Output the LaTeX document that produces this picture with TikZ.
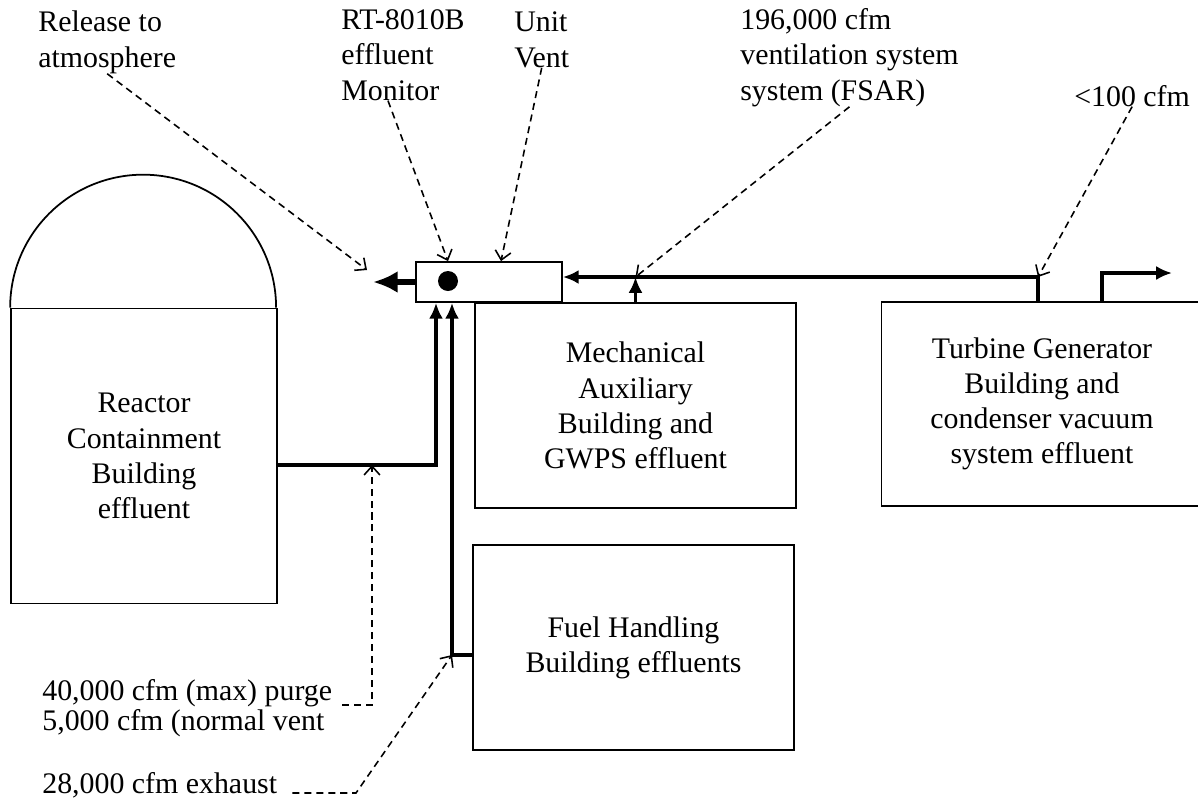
\documentclass[tikz,border=0pt]{standalone}
\usepackage{fontspec}
\setmainfont{Liberation Serif}
\usetikzlibrary{arrows.meta}

\newcommand{\dgfont}{\fontsize{17}{20}\selectfont}

\begin{document}
\begin{tikzpicture}[x=0.02cm,y=-0.02cm,
  every node/.style={font=\dgfont},
  box/.style={draw,line width=1pt,inner sep=0pt,align=center},
  pipe/.style={line width=2.2pt,-{Latex[length=9pt,width=8pt]}},
  note/.style={line width=0.9pt,dash pattern=on 4pt off 2.8pt,
    -{Straight Barb[length=5pt,width=9pt]}},
  lbl/.style={align=left,inner sep=0pt,anchor=base west}]
\useasboundingbox (0,0) rectangle (1198,806);

% {Buildings};
\node[box,minimum width=5.32cm,minimum height=5.9cm] (rcb) at (144,456)
  {Reactor\\Containment\\Building\\effluent};
\draw[line width=1pt] (rcb.north west) arc[start angle=180,end angle=0,radius=2.66cm];
\node[box,minimum width=6.42cm,minimum height=4.1cm] (mab) at (635.5,405.5)
  {Mechanical\\Auxiliary\\Building and\\GWPS effluent};
\node[box,minimum width=6.42cm,minimum height=4.1cm] (fhb) at (633.5,647.5)
  {Fuel Handling\\Building effluents};
\node[box,minimum width=6.42cm,minimum height=4.08cm] (tgb) at (1042,404)
  {Turbine Generator\\Building and\\condenser vacuum\\system effluent};

% {Unit Vent};
\node[box,minimum width=2.92cm,minimum height=0.8cm] (vent) at (489,282) {};
\node[circle,fill,inner sep=0pt,minimum size=0.4cm] (mon) at (448,281) {};

% {Flow paths};
\coordinate (tgtap) at (1038,277);
\coordinate (mabtap) at (mab.north |- tgtap);
\coordinate (tgout) at (1172,273);
\coordinate (rcbtap) at (436,465);
\coordinate (fhbtap) at (452,655);
\coordinate (atm) at (373,282);

\draw[pipe] (tgtap |- tgb.north) -- (tgtap) -- (tgtap -| vent.east);
\draw[pipe] (mab.north) -- (mabtap);
\draw[pipe] (1102,0 |- tgb.north) |- (tgout);
\draw[pipe] (rcb.east |- rcbtap) -| (rcbtap |- vent.south);
\draw[pipe] (fhb.west |- fhbtap) -| (fhbtap |- vent.south);
\draw[pipe,line width=3.2pt,-{Latex[length=14pt,width=12.5pt]}] (vent.west) -- (atm);

% {Labels};
\node[lbl] (rel) at (38,67) {Release to\\atmosphere};
\node[lbl] (rt) at (341,100) {RT-8010B\\effluent\\Monitor};
\node[lbl] (uv) at (514,67) {Unit\\Vent};
\node[lbl] (fsar) at (740,100) {196,000 cfm\\ventilation system\\system (FSAR)};
\node[lbl] (tgflow) at (1074,106) {\textless100 cfm};
\node[lbl] (purge) at (42,700) {40,000 cfm (max) purge};
\node[lbl] (norm) at (42,730) {5,000 cfm (normal vent};
\node[lbl] (exh) at (42,793) {28,000 cfm exhaust};

\coordinate (reltip) at (367,270);
\coordinate (rcbnote) at (372,465);
\coordinate (exbend) at (356,793);

\draw[note] (rel.south) -- (reltip);
\draw[note] ([xshift=-0.3cm]rt.south) -- (mon |- vent.north);
\draw[note] (uv.south) -- ([xshift=0.24cm]vent.north);
\draw[note] (fsar.south) -- (mabtap);
\draw[note] (tgflow.south) -- (tgtap);
\draw[note] ([xshift=0.2cm,yshift=-0.1cm]purge.base east) -| (rcbnote);
\draw[note] ([xshift=0.3cm]exh.base east) -- (exbend) -- (fhbtap);

\end{tikzpicture}
\end{document}
